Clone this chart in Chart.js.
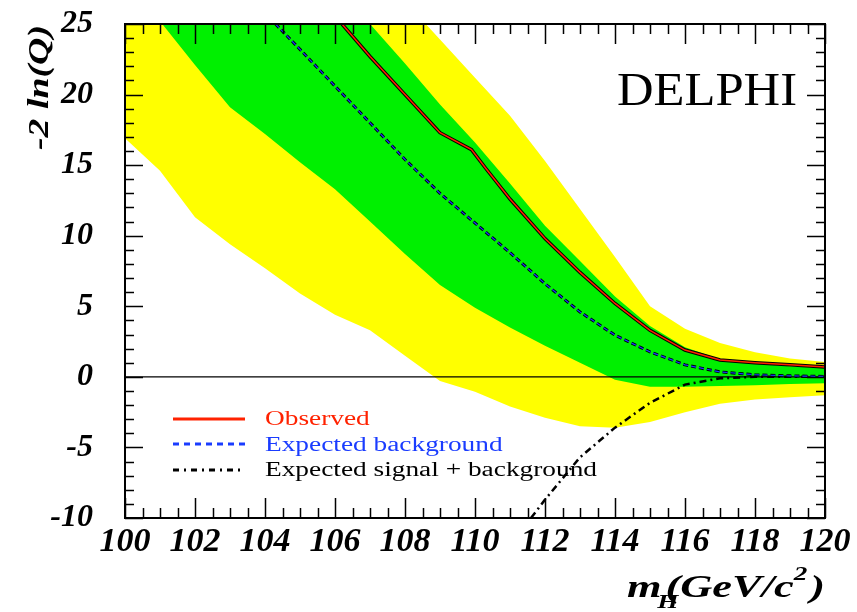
<!DOCTYPE html>
<html>
<head>
<meta charset="utf-8">
<script src="https://cdn.jsdelivr.net/npm/chart.js@4/dist/chart.umd.min.js"></script>
<style>
  html, body { margin: 0; padding: 0; background: #fff; }
  canvas { display: block; }
</style>
</head>
<body>
<canvas id="lnqChart" width="857" height="612"></canvas>
<script>
// -2 ln(Q) versus Higgs mass, DELPHI
const massGrid = [100, 101, 102, 103, 104, 105, 106, 107, 108, 109, 110,
                  111, 112, 113, 114, 115, 116, 117, 118, 119, 120];

// 2 sigma band (yellow) and 1 sigma band (green) around the background expectation
const yellowUpper = [47, 44, 42, 39, 36, 34, 31, 29, 26.6, 23.9, 21.2,
                     18.5, 15.3, 11.9, 8.5, 5.0, 3.4, 2.4, 1.75, 1.3, 1.05];
const yellowLower = [16.9, 14.6, 11.3, 9.4, 7.7, 5.9, 4.4, 3.3, 1.5, -0.3, -1.05,
                     -2.1, -2.9, -3.5, -3.6, -3.2, -2.5, -1.9, -1.6, -1.45, -1.3];
const greenUpper = [40, 37, 34, 32, 30, 28.5, 27, 25, 22.2, 19.3, 16.6,
                    13.7, 10.7, 8.2, 5.7, 3.6, 2.1, 1.25, 0.95, 0.75, 0.63];
const greenLower = [28.2, 25.2, 22.1, 19.1, 17.2, 15.2, 13.3, 11.0, 8.7, 6.5, 4.9,
                    3.5, 2.2, 1.0, -0.2, -0.7, -0.7, -0.65, -0.6, -0.5, -0.45];

// curves
const observedMass = [106.2, 107, 108, 109, 109.9, 110.3, 111, 112, 113, 114, 115, 116, 117, 118, 119, 120];
const observedValue = [25, 22.7, 20.0, 17.3, 16.1, 14.8, 12.6, 9.8, 7.4, 5.2, 3.3, 1.9, 1.2, 1.0, 0.85, 0.7];

const backgroundMass = [104.3, 105, 106, 107, 108, 109, 110, 111, 112, 113, 114, 115, 116, 117, 118, 119, 120];
const backgroundValue = [25, 23.2, 20.6, 18.0, 15.4, 13.0, 10.9, 8.8, 6.6, 4.6, 2.95, 1.77, 0.85, 0.35, 0.15, 0.07, 0.03];

const signalMass = [111.6, 112, 113, 114, 115, 116, 117, 118, 119, 120];
const signalValue = [-10, -8.7, -5.7, -3.6, -1.84, -0.55, -0.1, 0.0, 0.0, 0.0];

const zeroMass = [100, 120];
const zeroValue = [0, 0];

const xMin = 100, xMax = 120, xStep = 2;
const yMin = -10, yMax = 25, yStep = 5;

const legendItems = [
  { text: "Observed", color: "#ff2200", dash: [] },
  { text: "Expected background", color: "#1a3cff", dash: [6, 5] },
  { text: "Expected signal + background", color: "#000000", dash: [6, 5, 2, 5] },
];

const SERIF = '"Liberation Serif", "DejaVu Serif", serif';

function points(xs, ys) {
  return xs.map((x, i) => ({ x: x, y: ys[i] }));
}

function band(values, color, fill, order) {
  return {
    data: points(massGrid, values),
    borderWidth: 0,
    pointRadius: 0,
    backgroundColor: color,
    fill: fill,
    order: order,
  };
}

function curve(xs, ys, color, width, dash, order) {
  return {
    data: points(xs, ys),
    borderColor: color,
    borderWidth: width,
    borderDash: dash,
    pointRadius: 0,
    fill: false,
    tension: 0,
    order: order,
  };
}

// inward ticks on all four sides, plus the frame
const frameTicks = {
  id: "frameTicks",
  afterDatasetsDraw(chart) {
    const { ctx, chartArea: a, scales } = chart;
    const x = scales.x, y = scales.y;
    ctx.save();
    ctx.strokeStyle = "#000";
    ctx.lineWidth = 1.5;
    ctx.beginPath();
    for (let i = 0; i <= (xMax - xMin) * 2; i++) {
      const v = xMin + i / 2;
      const px = Math.round(x.getPixelForValue(v)) + 0.5;
      const len = i % 4 === 0 ? 20 : 10;
      ctx.moveTo(px, a.bottom); ctx.lineTo(px, a.bottom - len);
      ctx.moveTo(px, a.top); ctx.lineTo(px, a.top + len);
    }
    for (let v = yMin; v <= yMax; v++) {
      const py = Math.round(y.getPixelForValue(v)) + 0.5;
      const len = v % yStep === 0 ? 18 : 9;
      ctx.moveTo(a.left, py); ctx.lineTo(a.left + len, py);
      ctx.moveTo(a.right, py); ctx.lineTo(a.right - len, py);
    }
    ctx.stroke();
    ctx.lineWidth = 2;
    ctx.strokeRect(a.left, a.top, a.right - a.left, a.bottom - a.top);
    ctx.restore();
  },
};

function stretchedText(ctx, text, x, y, sx) {
  ctx.save();
  ctx.translate(x, y);
  ctx.scale(sx, 1);
  ctx.fillText(text, 0, 0);
  ctx.restore();
}

// legend, experiment label and axis titles
const annotations = {
  id: "annotations",
  afterDraw(chart) {
    const { ctx } = chart;
    ctx.save();
    ctx.textAlign = "left";
    ctx.textBaseline = "alphabetic";

    // legend
    const lineY = [419, 444, 470];
    const textY = [425, 451, 476];
    ctx.font = "20px " + SERIF;
    const longest = ctx.measureText(legendItems[2].text).width;
    const sx = 332 / longest;
    legendItems.forEach((item, i) => {
      ctx.strokeStyle = item.color;
      ctx.lineWidth = 3;
      ctx.setLineDash(item.dash);
      ctx.beginPath();
      ctx.moveTo(173, lineY[i]);
      ctx.lineTo(245, lineY[i]);
      ctx.stroke();
      ctx.fillStyle = item.color;
      stretchedText(ctx, item.text, 265, textY[i], sx);
    });
    ctx.setLineDash([]);

    // experiment
    ctx.fillStyle = "#000";
    ctx.font = "46px " + SERIF;
    const dw = ctx.measureText("DELPHI").width;
    stretchedText(ctx, "DELPHI", 617, 105, 180 / dw);

    // y title, rotated
    ctx.font = "bold italic 30px " + SERIF;
    const yt = "-2 ln(Q)";
    const yw = ctx.measureText(yt).width;
    ctx.save();
    ctx.translate(48, 150);
    ctx.rotate(-Math.PI / 2);
    ctx.scale(125 / yw, 1);
    ctx.fillText(yt, 0, 0);
    ctx.restore();

    // x title: m_H(GeV/c^2), stretched to span 627..825
    const big = "bold italic 31px " + SERIF;
    const small = "bold italic 19px " + SERIF;
    const parts = [
      { t: "m", f: big, dy: 0, gap: -3 },
      { t: "H", f: small, dy: 11, gap: -9 },
      { t: "(GeV/c", f: big, dy: 0, gap: 0 },
      { t: "2", f: small, dy: -17, gap: 2 },
      { t: ")", f: big, dy: 0, gap: 0 },
    ];
    let total = 0;
    parts.forEach((p) => {
      ctx.font = p.f;
      p.x = total;
      total += ctx.measureText(p.t).width + p.gap;
    });
    ctx.save();
    ctx.translate(627, 597);
    ctx.scale(198 / total, 1);
    parts.forEach((p) => {
      ctx.font = p.f;
      ctx.fillText(p.t, p.x, p.dy);
    });
    ctx.restore();
    ctx.restore();
  },
};

new Chart(document.getElementById("lnqChart"), {
  type: "line",
  data: {
    datasets: [
      band(yellowUpper, "#ffff00", "+1", 10),
      band(yellowLower, "#ffff00", false, 10),
      band(greenUpper, "#00f000", "+1", 8),
      band(greenLower, "#00f000", false, 8),
      curve(zeroMass, zeroValue, "#000", 1.2, [], 6),
      curve(signalMass, signalValue, "#000", 2.5, [7, 4, 2, 4], 5),
      curve(backgroundMass, backgroundValue, "#000", 3, [5, 3], 4),
      curve(backgroundMass, backgroundValue, "#1a3cff", 1.2, [5, 3], 3),
      curve(observedMass, observedValue, "#000", 3.5, [], 2),
      curve(observedMass, observedValue, "#ff2200", 1.5, [], 1),
    ],
  },
  options: {
    responsive: false,
    animation: false,
    devicePixelRatio: 1,
    layout: { padding: { top: 24, right: 32, left: 0, bottom: 0 } },
    plugins: {
      legend: { display: false },
      tooltip: { enabled: false },
    },
    scales: {
      x: {
        type: "linear",
        min: xMin,
        max: xMax,
        grid: { display: false, drawTicks: false },
        border: { display: false },
        ticks: {
          stepSize: xStep,
          color: "#000",
          padding: 4,
          font: { family: SERIF, size: 34, style: "italic", weight: "bold" },
        },
        afterFit(scale) {
          scale.height = 94;
          scale.paddingLeft = 0;
          scale.paddingRight = 0;
        },
      },
      y: {
        type: "linear",
        min: yMin,
        max: yMax,
        grid: { display: false, drawTicks: false },
        border: { display: false },
        ticks: {
          stepSize: yStep,
          color: "#000",
          padding: 32,
          font: { family: SERIF, size: 32, style: "italic", weight: "bold" },
        },
        afterFit(scale) {
          scale.width = 125;
          scale.paddingTop = 0;
          scale.paddingBottom = 0;
        },
      },
    },
  },
  plugins: [frameTicks, annotations],
});
</script>
</body>
</html>
